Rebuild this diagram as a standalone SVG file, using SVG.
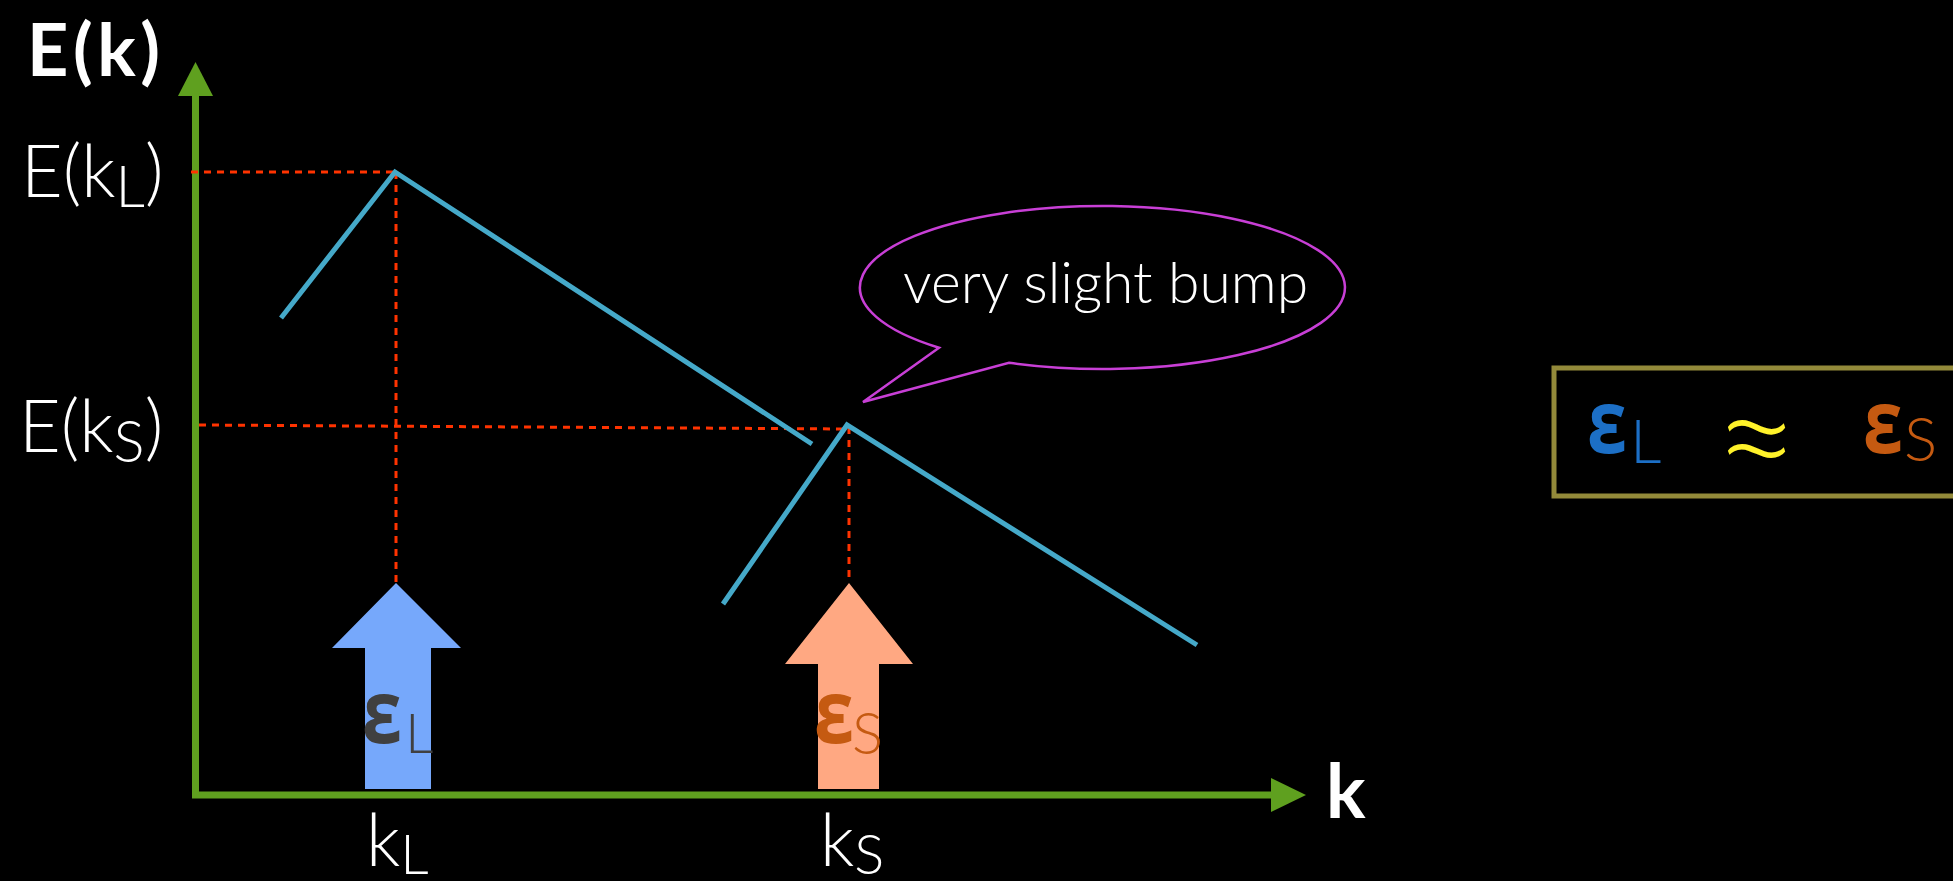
<svg xmlns="http://www.w3.org/2000/svg" width="1953" height="881" viewBox="0 0 1953 881">
<defs>
<style>
.lbl{font-family:Lato,"Open Sans","DejaVu Sans",sans-serif;font-weight:300;fill:#ffffff}
.bold{font-family:Lato,"Open Sans","DejaVu Sans",sans-serif;font-weight:700;fill:#ffffff}
.eps{font-family:"Open Sans","DejaVu Sans",sans-serif;font-weight:700;font-size:88px}
.sub{font-family:Lato,"Open Sans",sans-serif;font-weight:300}
.axis{stroke:#5fa01f;stroke-width:7;fill:none}
.axhead{fill:#5fa01f}
.guide{stroke:#ff3300;stroke-width:3;stroke-dasharray:7 6;fill:none}
.curve{stroke:#45a9c9;stroke-width:5;fill:none}
</style>
</defs>
<rect width="1953" height="881" fill="#000000"/>

<g id="axes">
<line class="axis" x1="195.5" y1="798" x2="195.5" y2="92"/>
<polygon class="axhead" points="178,96 195.5,62 213,96"/>
<line class="axis" x1="192" y1="795" x2="1275" y2="795"/>
<polygon class="axhead" points="1271,778 1306,795 1271,812"/>
<text class="bold" x="27" y="76" font-size="72" textLength="133" lengthAdjust="spacing">E(k)</text>
<text class="bold" x="1326" y="818" font-size="74">k</text>
</g>

<g id="connectors">
<polyline class="guide" points="191,172 395,172"/>
<polyline class="guide" points="396,172 396,583"/>
<polyline class="guide" points="199,425 849,429"/>
<polyline class="guide" points="849,427 849,583"/>
</g>

<g id="dispersion">
<polyline class="curve" points="281,318 395,172 812,444"/>
<polyline class="curve" points="723,604 847,425 1197,645"/>
</g>

<g id="labels">
<text class="lbl" x="21" y="197" font-size="72">E(k<tspan font-size="58" dy="10">L</tspan><tspan dy="-10">)</tspan></text>
<text class="lbl" x="19" y="452" font-size="72">E(k<tspan font-size="58" dy="10">S</tspan><tspan dy="-10">)</tspan></text>
<text class="lbl" x="366" y="866" font-size="72">k<tspan font-size="56" dy="8">L</tspan></text>
<text class="lbl" x="820" y="866" font-size="72">k<tspan font-size="56" dy="8">S</tspan></text>
</g>

<g id="arrow-L">
<polygon fill="#76a8fb" points="396,583 461,648 431,648 431,789 365,789 365,648 332,648"/>
<text class="eps" x="362" y="743" fill="#404040" textLength="40" lengthAdjust="spacingAndGlyphs">ε</text>
<text class="sub" x="405" y="753" font-size="56" fill="#404040">L</text>
</g>

<g id="arrow-S">
<polygon fill="#ffa882" points="849,583 913,664 879,664 879,789 818,789 818,664 785,664"/>
<text class="eps" x="814" y="743" fill="#c55a11" textLength="40" lengthAdjust="spacingAndGlyphs">ε</text>
<text class="sub" x="852" y="754" font-size="58" fill="#c55a11">S</text>
</g>

<g id="callout">
<path d="M 939 347.7 L 863 402 L 1009 362.7 A 242.5 81.5 0 1 0 939 347.7 Z" fill="none" stroke="#c83fd6" stroke-width="2.5"/>
<text class="lbl" x="903" y="303" font-size="57">very slight bump</text>
</g>

<g id="relation">
<rect x="1554" y="368" width="420" height="128" fill="none" stroke="#938a3a" stroke-width="5"/>
<text class="eps" x="1587" y="453" fill="#1c6fc6" textLength="40" lengthAdjust="spacingAndGlyphs">ε</text>
<text class="sub" x="1630" y="463" font-size="62" fill="#1c6fc6">L</text>
<text x="1713" y="490" font-size="150" fill="#fff22a" font-family="Lato,'Open Sans','DejaVu Sans',sans-serif" font-weight="300">≈</text>
<text class="eps" x="1863" y="453" fill="#c55a11" textLength="40" lengthAdjust="spacingAndGlyphs">ε</text>
<text class="sub" x="1904" y="461" font-size="62" fill="#c55a11">S</text>
</g>
</svg>
